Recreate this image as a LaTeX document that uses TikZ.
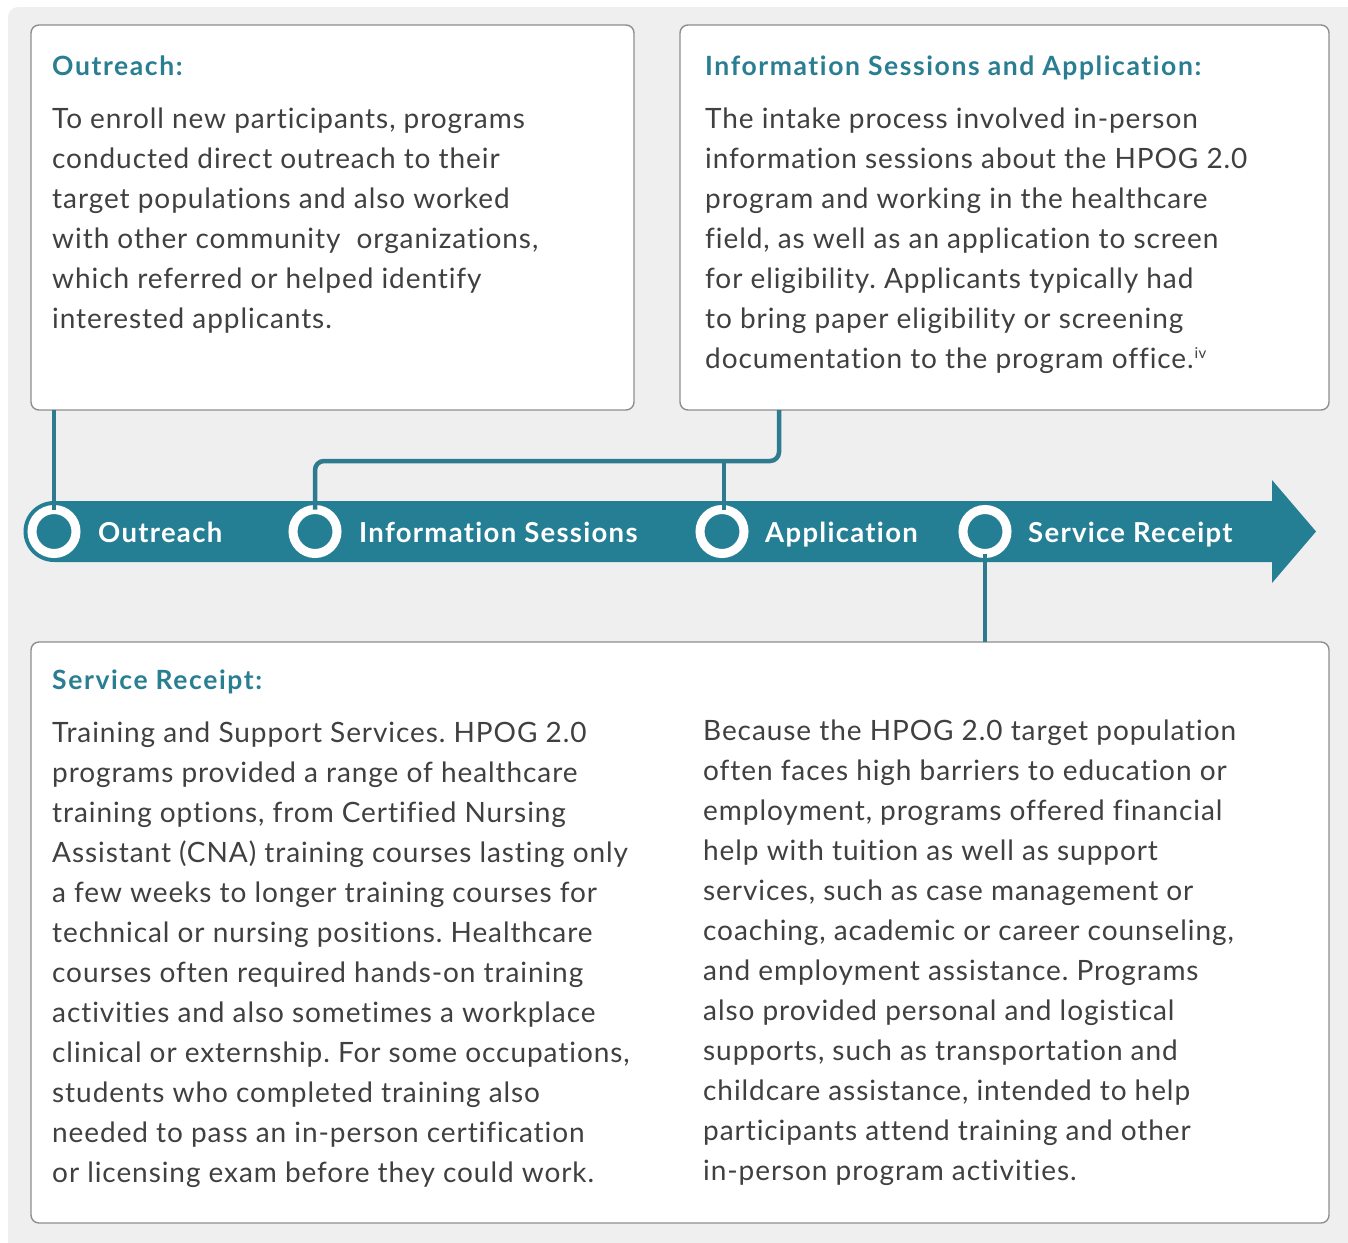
\documentclass[tikz,border=0pt]{standalone}
\usepackage{fontspec}
\setmainfont{Lato}
\newfontfamily\bodyfont[LetterSpace=3.3,Ligatures=NoCommon]{Lato}
\newfontfamily\headfont[LetterSpace=6.0,Ligatures=NoCommon]{Lato}
\newfontfamily\tagfont[LetterSpace=4.7,Ligatures=NoCommon]{Lato}
\definecolor{bggray}{HTML}{EFEFEF}
\definecolor{bandteal}{HTML}{257F94}
\definecolor{headteal}{HTML}{2A7E92}
\definecolor{linkteal}{HTML}{2E7A8E}
\definecolor{panelline}{HTML}{8E8E8E}
\definecolor{bodytext}{HTML}{404040}
\frenchspacing
% a block of lines with a fixed 40pt pitch; its baseline is that of the first line
\newcommand\linestack[1]{\vtop{\baselineskip=40pt\lineskiplimit=-100pt\lineskip=0pt #1}}
\newcommand\tline[1]{\hbox{#1}}
\newcommand\noteref[1]{\kern1pt\raisebox{10pt}{\fontsize{15}{15}\selectfont #1}}
\tikzset{
  panel/.style={draw=panelline, fill=white, line width=1.4pt, rounded corners=8pt,
                inner sep=0pt, outer sep=0pt, anchor=north west},
  head/.style={anchor=base west, inner sep=0pt, text=headteal,
               font=\headfont\fontsize{26.5}{30}\selectfont\bfseries},
  body/.style={anchor=base west, inner sep=0pt, text=bodytext,
               font=\bodyfont\fontsize{28}{30}\selectfont},
  tag/.style={anchor=base west, inner sep=0pt, text=white,
              font=\tagfont\fontsize{27.5}{30}\selectfont\bfseries},
  ring/.style={circle, draw=white, line width=9pt, fill=bandteal,
               minimum size=44pt, inner sep=0pt, outer sep=0pt},
  link/.style={draw=linkteal, line width=4.5pt, rounded corners=9pt},
}
\begin{document}
\begin{tikzpicture}[x=1pt,y=-1pt]
\useasboundingbox (0,0) rectangle (1348,1242);
\begin{scope}
  \clip (0,0) rectangle (1348,1242);
  \fill[bggray, rounded corners=10pt] (8,7) rectangle (1380,1280);
\end{scope}

% text panels
\node[panel, minimum width=603pt, minimum height=385pt] (obox) at (31,25) {};
\node[panel, minimum width=649pt, minimum height=385pt] (ibox) at (680,25) {};
\node[panel, minimum width=1298pt, minimum height=581pt] (sbox) at (31,642) {};

% timeline band with arrow head
\fill[bandteal] (54,501) -- (1272,501) -- (1272,480) -- (1316,531.5) -- (1272,583)
  -- (1272,562) -- (54,562) arc (90:270:30.5) -- cycle;

% stage markers
\node[ring] (c1) at (54,531.5) {};
\node[ring] (c2) at (315,531.5) {};
\node[ring] (c3) at (722,531.5) {};
\node[ring] (c4) at (985,531.5) {};

\node[tag] (t1) at (98,542) {Outreach};
\node[tag] (t2) at (359,542) {Information Sessions};
\node[tag] (t3) at (765,542) {Application};
\node[tag] (t4) at (1028,542) {Service Receipt};

% connectors from the markers to their panels
\coordinate (bend) at (779,461);
\draw[link] (c1) -- (c1 |- obox.south);
\draw[link] (c2) |- (bend) -- (bend |- ibox.south);
\draw[link] ([xshift=2pt]c3.north) -- ([xshift=2pt]c3 |- bend);
\draw[link] (c4) -- (c4 |- sbox.north);

% panel texts
\node[head] (oh) at (52,75) {Outreach:};
\node[body] (ot) at (52,128) {\linestack{%
  \tline{To enroll new participants, programs}
  \tline{conducted direct outreach to their}
  \tline{target populations and also worked}
  \tline{with other community~ organizations,}
  \tline{which referred or helped identify}
  \tline{interested applicants.}}};

\node[head] (ih) at (705,75) {Information Sessions and Application:};
\node[body] (it) at (705,128) {\linestack{%
  \tline{The intake process involved in-person}
  \tline{information sessions about the HPOG 2.0}
  \tline{program and working in the healthcare}
  \tline{field, as well as an application to screen}
  \tline{for eligibility. Applicants typically had}
  \tline{to bring paper eligibility or screening}
  \tline{documentation to the program office.\noteref{iv}}}};

\node[head] (sh) at (52,689) {Service Receipt:};
\node[body] (sl) at (52,742) {\linestack{%
  \tline{Training and Support Services. HPOG 2.0}
  \tline{programs provided a range of healthcare}
  \tline{training options, from Certified Nursing}
  \tline{Assistant (CNA) training courses lasting only}
  \tline{a few weeks to longer training courses for}
  \tline{technical or nursing positions. Healthcare}
  \tline{courses often required hands-on training}
  \tline{activities and also sometimes a workplace}
  \tline{clinical or externship. For some occupations,}
  \tline{students who completed training also}
  \tline{needed to pass an in-person certification}
  \tline{or licensing exam before they could work.}}};
\node[body] (sr) at (703,740) {\linestack{%
  \tline{Because the HPOG 2.0 target population}
  \tline{often faces high barriers to education or}
  \tline{employment, programs offered financial}
  \tline{help with tuition as well as support}
  \tline{services, such as case management or}
  \tline{coaching, academic or career counseling,}
  \tline{and employment assistance. Programs}
  \tline{also provided personal and logistical}
  \tline{supports, such as transportation and}
  \tline{childcare assistance, intended to help}
  \tline{participants attend training and other}
  \tline{in-person program activities.}}};
\end{tikzpicture}
\end{document}
